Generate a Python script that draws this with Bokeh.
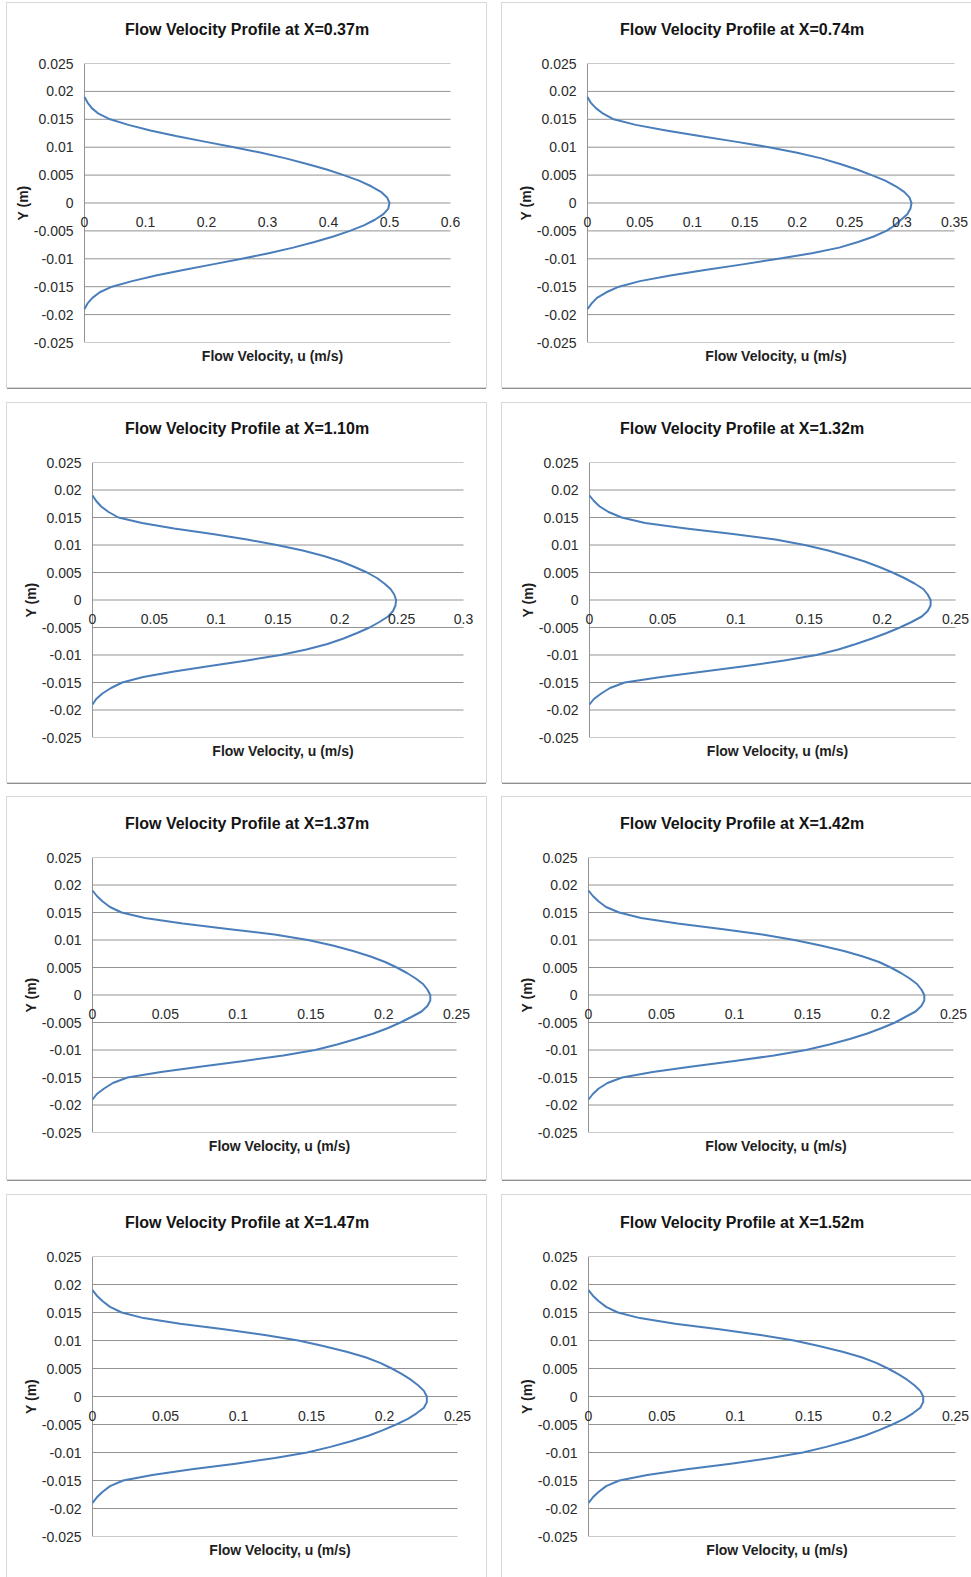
from bokeh.plotting import figure
from bokeh.layouts import column, row
from bokeh.models import Range1d, FixedTicker, LinearAxis, Title
from bokeh.embed import file_html
from bokeh.resources import INLINE

# Cross-stream positions (m), from the upper wall to the lower wall
Y_POS = [0.019, 0.018, 0.017, 0.016, 0.015, 0.014, 0.013, 0.012, 0.011, 0.010,
         0.009, 0.008, 0.007, 0.006, 0.005, 0.004, 0.003, 0.002, 0.001, 0.0,
         -0.001, -0.002, -0.003, -0.004, -0.005, -0.006, -0.007, -0.008, -0.009, -0.010,
         -0.011, -0.012, -0.013, -0.014, -0.015, -0.016, -0.017, -0.018, -0.019]

# Velocity u (m/s) at each Y_POS, one list per streamwise station
U_X037 = [0.0, 0.005, 0.012, 0.023, 0.042, 0.072, 0.108, 0.150, 0.197, 0.245,
          0.290, 0.330, 0.365, 0.397, 0.425, 0.450, 0.470, 0.486, 0.496, 0.500,
          0.498, 0.490, 0.476, 0.458, 0.435, 0.408, 0.377, 0.342, 0.302, 0.258,
          0.210, 0.162, 0.117, 0.078, 0.045, 0.025, 0.013, 0.005, 0.0]
U_X074 = [0.0, 0.003, 0.008, 0.015, 0.025, 0.046, 0.075, 0.107, 0.141, 0.173,
          0.200, 0.223, 0.241, 0.257, 0.271, 0.284, 0.294, 0.302, 0.307, 0.309,
          0.308, 0.305, 0.299, 0.293, 0.285, 0.273, 0.258, 0.240, 0.214, 0.182,
          0.148, 0.112, 0.079, 0.050, 0.030, 0.018, 0.009, 0.004, 0.0]
U_X110 = [0.0, 0.003, 0.007, 0.013, 0.021, 0.040, 0.066, 0.097, 0.125, 0.149,
          0.170, 0.187, 0.201, 0.212, 0.222, 0.230, 0.236, 0.241, 0.244, 0.2455,
          0.245, 0.243, 0.239, 0.232, 0.224, 0.214, 0.203, 0.190, 0.173, 0.152,
          0.125, 0.095, 0.066, 0.041, 0.024, 0.015, 0.008, 0.003, 0.0]
U_X132 = [0.0, 0.003, 0.007, 0.013, 0.022, 0.038, 0.066, 0.098, 0.127, 0.147,
          0.163, 0.176, 0.188, 0.198, 0.207, 0.215, 0.222, 0.228, 0.231, 0.233,
          0.233, 0.231, 0.227, 0.220, 0.212, 0.203, 0.193, 0.182, 0.170, 0.155,
          0.133, 0.107, 0.078, 0.049, 0.024, 0.014, 0.008, 0.003, 0.0]
U_X137 = [0.0, 0.003, 0.007, 0.012, 0.020, 0.036, 0.062, 0.093, 0.125, 0.148,
          0.165, 0.179, 0.191, 0.201, 0.209, 0.216, 0.222, 0.227, 0.230, 0.232,
          0.232, 0.230, 0.226, 0.219, 0.2115, 0.203, 0.193, 0.181, 0.168, 0.153,
          0.131, 0.104, 0.075, 0.047, 0.024, 0.014, 0.008, 0.003, 0.0]
U_X142 = [0.0, 0.003, 0.007, 0.012, 0.021, 0.036, 0.061, 0.091, 0.119, 0.141,
          0.159, 0.175, 0.188, 0.199, 0.207, 0.214, 0.220, 0.225, 0.228, 0.230,
          0.230, 0.228, 0.224, 0.217, 0.210, 0.201, 0.191, 0.179, 0.165, 0.149,
          0.127, 0.100, 0.071, 0.044, 0.023, 0.013, 0.007, 0.003, 0.0]
U_X147 = [0.0, 0.003, 0.007, 0.012, 0.020, 0.035, 0.060, 0.090, 0.118, 0.141,
          0.158, 0.174, 0.187, 0.197, 0.205, 0.212, 0.218, 0.223, 0.227, 0.229,
          0.229, 0.227, 0.222, 0.216, 0.208, 0.199, 0.189, 0.177, 0.163, 0.147,
          0.125, 0.098, 0.068, 0.041, 0.021, 0.012, 0.007, 0.003, 0.0]
U_X152 = [0.0, 0.003, 0.007, 0.012, 0.020, 0.035, 0.059, 0.089, 0.117, 0.140,
          0.157, 0.173, 0.186, 0.196, 0.204, 0.211, 0.217, 0.222, 0.226, 0.228,
          0.228, 0.226, 0.221, 0.215, 0.207, 0.198, 0.188, 0.176, 0.162, 0.146,
          0.124, 0.097, 0.067, 0.040, 0.021, 0.012, 0.007, 0.003, 0.0]

STATIONS = ["0.37", "0.74", "1.10", "1.32", "1.37", "1.42", "1.47", "1.52"]
PROFILES = [U_X037, U_X074, U_X110, U_X132, U_X137, U_X142, U_X147, U_X152]

# Horizontal axis ticks for each station
X_TICKS_A = [0.0, 0.1, 0.2, 0.3, 0.4, 0.5, 0.6]
X_LABELS_A = ["0", "0.1", "0.2", "0.3", "0.4", "0.5", "0.6"]
X_TICKS_B = [0.0, 0.05, 0.1, 0.15, 0.2, 0.25, 0.3, 0.35]
X_LABELS_B = ["0", "0.05", "0.1", "0.15", "0.2", "0.25", "0.3", "0.35"]
X_TICKS_C = [0.0, 0.05, 0.1, 0.15, 0.2, 0.25, 0.3]
X_LABELS_C = ["0", "0.05", "0.1", "0.15", "0.2", "0.25", "0.3"]
X_TICKS_D = [0.0, 0.05, 0.1, 0.15, 0.2, 0.25]
X_LABELS_D = ["0", "0.05", "0.1", "0.15", "0.2", "0.25"]
X_AXES = [(X_TICKS_A, X_LABELS_A), (X_TICKS_B, X_LABELS_B), (X_TICKS_C, X_LABELS_C),
          (X_TICKS_D, X_LABELS_D), (X_TICKS_D, X_LABELS_D), (X_TICKS_D, X_LABELS_D),
          (X_TICKS_D, X_LABELS_D), (X_TICKS_D, X_LABELS_D)]

Y_TICKS = [0.025, 0.02, 0.015, 0.01, 0.005, 0.0, -0.005, -0.01, -0.015, -0.02, -0.025]
Y_TICK_LABELS = ["0.025", "0.02", "0.015", "0.01", "0.005", "0", "-0.005", "-0.01",
                 "-0.015", "-0.02", "-0.025"]

# Panel geometry: width, height, plot-area inset left/right/top/bottom, outer margin (t, r, b, l)
PANELS = [
    (479, 384, 77, 36, 60, 45, (3, 0, 0, 7)),
    (469, 384, 85, 17, 60, 45, (3, 0, 0, 16)),
    (479, 379, 85, 23, 59, 45, (16, 0, 0, 7)),
    (469, 379, 87, 16, 59, 45, (16, 0, 0, 16)),
    (479, 382, 85, 30, 60, 46, (15, 0, 0, 7)),
    (469, 382, 86, 18, 60, 47, (15, 0, 0, 16)),
    (479, 382, 85, 29, 61, 40, (16, 0, 0, 7)),
    (469, 382, 86, 16, 61, 41, (16, 0, 0, 16)),
]
PAD_L = 5    # room left of u = 0 so the first u label is not cut
PAD_R = 15   # room right of the last u tick for its label
TITLE_LIFT = 20  # extra space kept under the title text

FONT = "Liberation Sans"
GRID = "#939393"
LINE = "#4A7EBB"
TEXT = "#2b2b2b"
TITLE_SIZE = 16
TITLE_EM = 15.31  # width of the title string in em for this face


def make_panel(i):
    w, h, bl, br, bt, bb, margin = PANELS[i]
    x_ticks, x_labels = X_AXES[i]
    xmax = x_ticks[-1]
    unit = xmax / (w - bl - br)          # data units per pixel along u
    p = figure(width=w, height=h, output_backend="svg", toolbar_location=None,
               x_range=Range1d(-PAD_L * unit, xmax + PAD_R * unit),
               y_range=Range1d(Y_TICKS[-1], Y_TICKS[0]),
               min_border_left=bl - PAD_L, min_border_right=br - PAD_R,
               min_border_top=bt, min_border_bottom=bb, margin=margin,
               background_fill_color="white", border_fill_color="white",
               outline_line_color=None,
               styles={"box-shadow": "0 0 0 1px #d8d8d8, 0 2px 0 0 #8f8f8f"})
    p.title.text = ""
    p.title.visible = False

    # chart title, centred on the panel rather than on the plot frame
    title = Title(text=f"Flow Velocity Profile at X={STATIONS[i]}m",
                  align="left",
                  offset=240 - TITLE_EM * TITLE_SIZE / 2 - (bl - PAD_L),
                  standoff=11, text_font=FONT,
                  text_font_size=f"{TITLE_SIZE}px", text_font_style="bold",
                  text_color="#141414")
    try:
        title.padding = dict(left=0, right=0, top=0, bottom=TITLE_LIFT)
    except Exception:
        title.standoff = 40
    p.add_layout(title, "above")

    # vertical axis: labels only, its line is drawn at u = 0 below
    p.yaxis.ticker = FixedTicker(ticks=Y_TICKS)
    p.yaxis.major_label_overrides = dict(zip(Y_TICKS, Y_TICK_LABELS))
    p.yaxis.major_tick_out = 0
    p.yaxis.major_tick_in = 0
    p.yaxis.minor_tick_out = 0
    p.yaxis.minor_tick_in = 0
    p.yaxis.major_label_standoff = 11 - PAD_L
    p.yaxis.axis_line_color = None
    p.yaxis.major_label_text_font = FONT
    p.yaxis.major_label_text_font_size = "14px"
    p.yaxis.major_label_text_color = TEXT
    p.yaxis.axis_label = "Y (m)"
    p.yaxis.axis_label_text_font = FONT
    p.yaxis.axis_label_text_font_size = "14px"
    p.yaxis.axis_label_text_font_style = "bold"
    p.yaxis.axis_label_text_color = "#1e1e1e"
    p.yaxis.axis_label_standoff = 0

    # bottom axis carries only the axis title
    bottom = p.below[0]
    bottom.ticker = FixedTicker(ticks=[])
    bottom.axis_line_color = None
    bottom.major_tick_out = 0
    bottom.minor_tick_out = 0
    bottom.major_label_standoff = 0
    bottom.axis_label = "Flow Velocity, u (m/s)"
    bottom.axis_label_text_font = FONT
    bottom.axis_label_text_font_size = "14px"
    bottom.axis_label_text_font_style = "bold"
    bottom.axis_label_text_color = "#1e1e1e"
    bottom.axis_label_standoff = 5

    # u tick labels hang from the line Y = 0
    u_axis = LinearAxis(ticker=FixedTicker(ticks=x_ticks),
                        major_label_overrides=dict(zip(x_ticks, x_labels)),
                        fixed_location=0, axis_line_color=None,
                        major_tick_out=0, major_tick_in=0,
                        minor_tick_out=0, minor_tick_in=0,
                        major_label_standoff=14,
                        major_label_text_font=FONT,
                        major_label_text_font_size="14px",
                        major_label_text_color=TEXT)
    p.add_layout(u_axis, "below")

    # horizontal gridlines from u = 0 to the last u tick, and the axis line at u = 0
    p.grid.visible = False
    p.segment(x0=[0.0] * len(Y_TICKS), y0=Y_TICKS, x1=[xmax] * len(Y_TICKS), y1=Y_TICKS,
              line_color=GRID, line_width=1)
    p.segment(x0=[0.0], y0=[Y_TICKS[-1]], x1=[0.0], y1=[Y_TICKS[0]],
              line_color=GRID, line_width=1)

    p.line(PROFILES[i], Y_POS, line_color=LINE, line_width=2, line_join="round")
    return p


panels = [make_panel(i) for i in range(8)]
layout = column(
    row(panels[0], panels[1]),
    row(panels[2], panels[3]),
    row(panels[4], panels[5]),
    row(panels[6], panels[7]),
)

open("out.html", "w").write(file_html(layout, INLINE))
